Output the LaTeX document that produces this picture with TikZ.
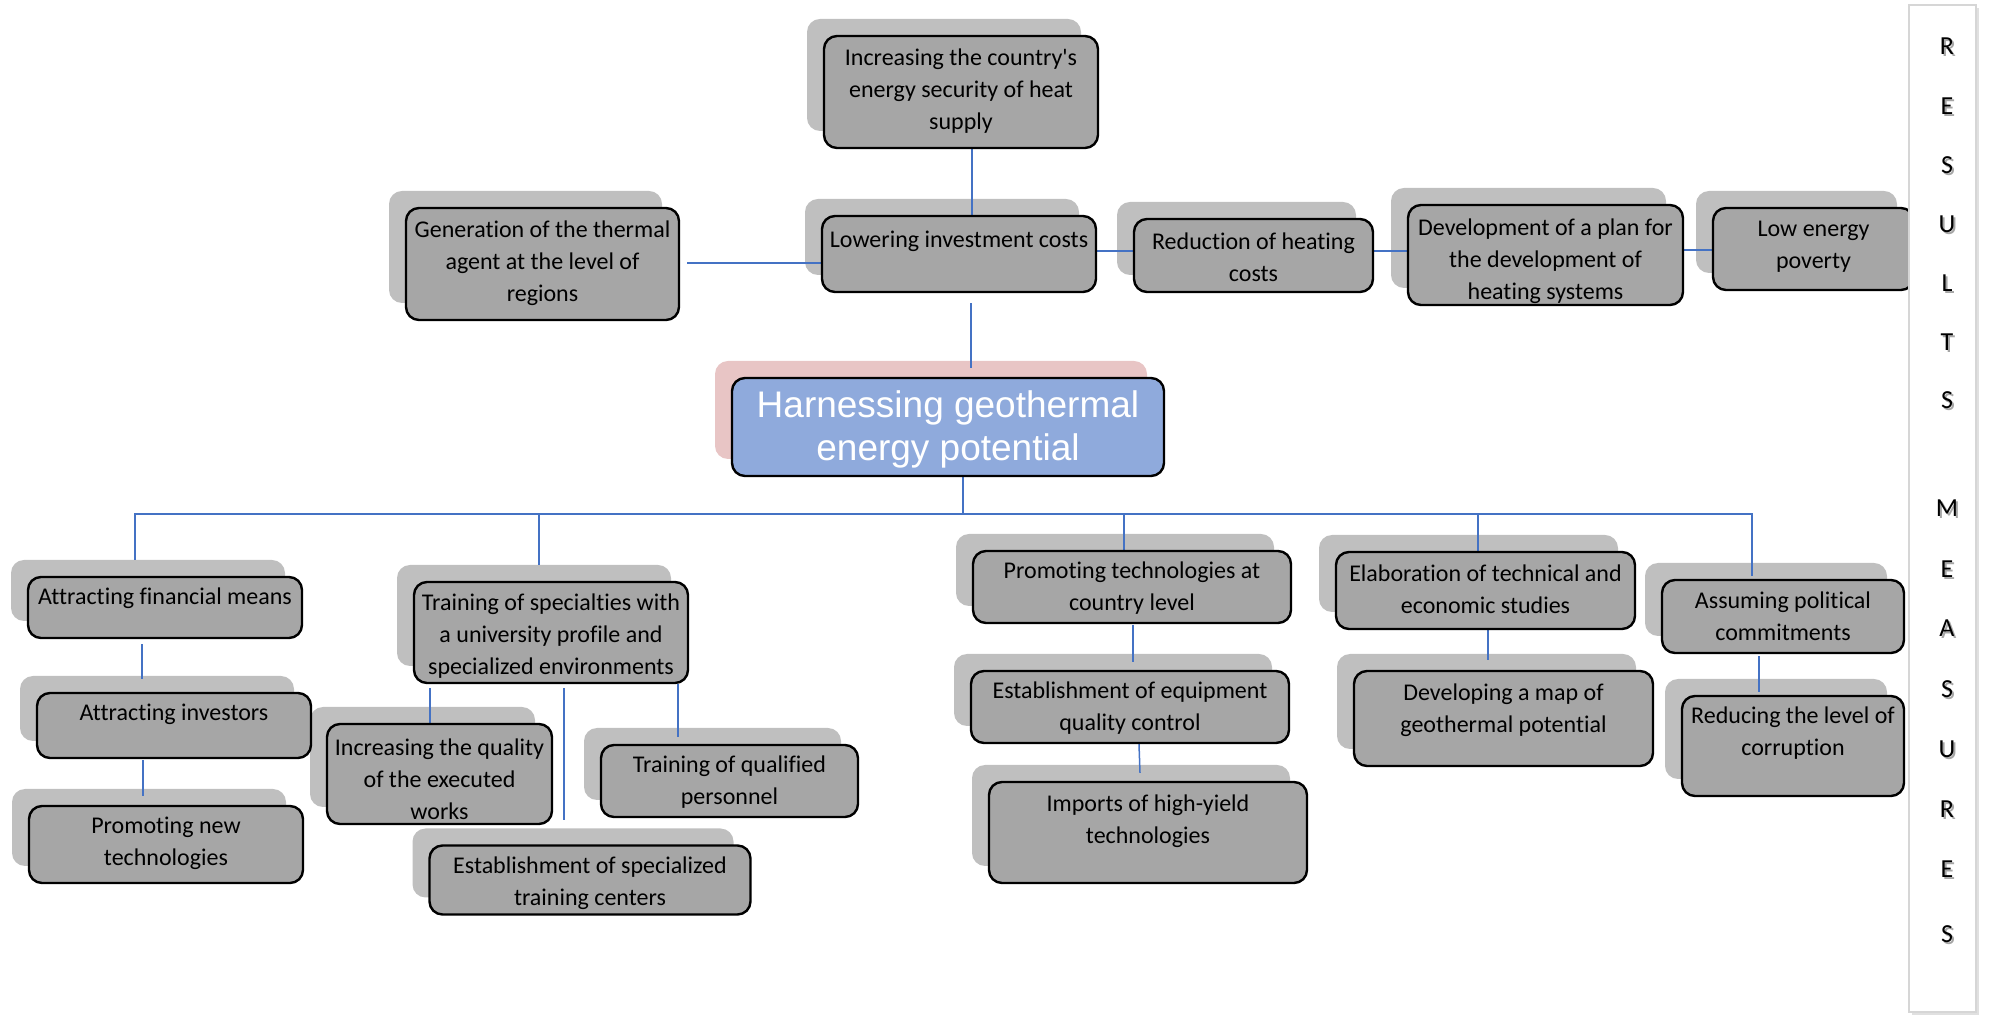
\documentclass[tikz,border=0pt]{standalone}
\usepackage{fontspec}
\setmainfont{Carlito}[Ligatures={TeXOff,NoCommon}]
\newfontfamily\headfont{Liberation Sans}
\usetikzlibrary{calc}

\definecolor{boxgray}{HTML}{A6A6A6}
\definecolor{ghostgray}{HTML}{BFBFBF}
\definecolor{wireblue}{HTML}{4472C4}
\definecolor{corefill}{HTML}{8FAADC}
\definecolor{coreghost}{HTML}{E8C5C5}
\definecolor{barline}{HTML}{D6D6D6}

\pgfdeclarelayer{ghosts}
\pgfdeclarelayer{wires}
\pgfsetlayers{ghosts,wires,main}

\tikzset{
  tilebox/.style={draw=black, line width=1.2pt, fill=boxgray, rounded corners=6.5pt, inner sep=0pt},
  ghostbox/.style={fill=ghostgray, draw=none, rounded corners=6.5pt, inner sep=0pt},
  boxtext/.style={align=center, inner sep=0pt, font=\fontsize{12}{15.9}\selectfont},
  wire/.style={draw=wireblue, line width=0.75pt},
  barletter/.style={inner sep=0pt, font=\fontsize{13}{13}\selectfont},
}

% one rounded tile with its offset shadow: name, cx, cy, width, height, text y, text
\newcommand\tile[7]{%
  \begin{pgfonlayer}{ghosts}
    \node[ghostbox, minimum width=#4*0.5pt, minimum height=#5*0.5pt] (#1s) at (#2-17,#3-17) {};
  \end{pgfonlayer}
  \node[tilebox, minimum width=#4*0.5pt, minimum height=#5*0.5pt] (#1) at (#2,#3) {};
  \node[boxtext] (#1t) at (#2,#6+2) {#7};
}

\begin{document}
\begin{tikzpicture}[x=0.5pt, y=-0.5pt]
\useasboundingbox (0,0) rectangle (1993,1020);

% results row
\tile{n1}{961}{92}{274}{112}{89}{Increasing the country's\\energy security of heat\\supply}
\tile{n2}{542.5}{264}{273}{112}{261}{Generation of the thermal\\agent at the level of\\regions}
\tile{n3}{959}{254}{274}{76}{239}{Lowering investment costs}
\tile{n4}{1253.5}{255.5}{239}{73}{255}{Reduction of heating\\costs}
\tile{n5}{1545.5}{255}{275}{100}{259}{Development of a plan for\\the development of\\heating systems}
\tile{n6}{1813.5}{249}{201}{82}{245}{Low energy\\poverty}

% central goal
\begin{pgfonlayer}{ghosts}
  \node[ghostbox, fill=coreghost, minimum width=432*0.5pt, minimum height=98*0.5pt] (cores) at (931,410) {};
\end{pgfonlayer}
\node[tilebox, fill=corefill, minimum width=432*0.5pt, minimum height=98*0.5pt] (core) at (948,427) {};
\node[align=center, inner sep=0pt, text=white, font=\headfont\fontsize{18.5}{21.5}\selectfont] (coret) at (948,429) {Harnessing geothermal\\energy potential};

% measures
\tile{n8}{165}{607.5}{274}{61}{596}{Attracting financial means}
\tile{n9}{174}{725.5}{274}{65}{712}{Attracting investors}
\tile{n10}{166}{844.5}{274}{77}{841}{Promoting new\\technologies}
\tile{n11}{551}{632.5}{274}{101}{634}{Training of specialties with\\a university profile and\\specialized environments}
\tile{n12}{439.5}{774}{225}{100}{777}{Increasing the quality\\of the executed\\works}
\tile{n13}{729.5}{781}{257}{72}{780}{Training of qualified\\personnel}
\tile{n14}{590}{880}{321}{69}{881}{Establishment of specialized\\training centers}
\tile{n15}{1132}{587}{318}{72}{586}{Promoting technologies at\\country level}
\tile{n16}{1130}{707}{318}{72}{706}{Establishment of equipment\\quality control}
\tile{n17}{1148}{832.5}{318}{101}{819}{Imports of high-yield\\technologies}
\tile{n18}{1485.5}{590.5}{299}{77}{587}{Elaboration of technical and\\economic studies}
\tile{n19}{1503.5}{718.5}{299}{95}{708}{Developing a map of\\geothermal potential}
\tile{n20}{1783}{616.5}{242}{73}{614}{Assuming political\\commitments}
\tile{n21}{1793}{746}{222}{100}{731}{Reducing the level of\\corruption}

\begin{pgfonlayer}{wires}
  % upper chain
  \draw[wire] ($(n1.south)+(11,0)$) -- ($(n3.north)+(13,0)$);
  \draw[wire] ($(n3.south)+(12,10)$) -- ($(core.north)+(23,-9)$);
  \draw[wire] ($(n2.east)+(7,-1)$) -- ($(n3.west)+(0,9)$);
  \draw[wire] ($(n3.east)+(0,-3)$) -- ($(n4.west)+(0,-4.5)$);
  \draw[wire] ($(n4.east)+(0,-4.5)$) -- ($(n5.west)+(0,-4)$);
  \draw[wire] ($(n5.east)+(0,-5)$) -- ($(n6.west)+(0,1)$);
  % distribution bus
  \coordinate (hub) at ($(core.south)+(15,37)$);
  \draw[wire] ($(core.south)+(15,0)$) -- (hub);
  \draw[wire] ($(n8s.north)+(-13,0)$) |- (hub) -| ($(n20.north)+(-31,-3)$);
  \draw[wire] (hub) -| ($(n11s.north)+(5,0)$);
  \draw[wire] (hub) -| ($(n15.north)+(-8,0)$);
  \draw[wire] (hub) -| ($(n18.north)+(-7.5,0)$);
  % lower chains
  \draw[wire] ($(n8.south)+(-23,5)$) -- ($(n9.north)+(-32,-13)$);
  \draw[wire] ($(n9.south)+(-31,1)$) -- ($(n10.north)+(-23,-9)$);
  \draw[wire] ($(n11.south)+(-121,4)$) -- ($(n12.north)+(-9.5,0)$);
  \draw[wire] ($(n11.south)+(13,4)$) -- ($(n14.north)+(-26,-24)$);
  \draw[wire] ($(n11.south)+(127,0)$) -- ($(n13.north)+(-51.5,-7)$);
  \draw[wire] ($(n15.south)+(1,1)$) -- ($(n16.north)+(3,-8)$);
  \draw[wire] ($(n16.south)+(9,0)$) -- ($(n17.north)+(-8,-8)$);
  \draw[wire] ($(n18.south)+(2.5,-5)$) -- ($(n19.north)+(-15.5,-10)$);
  \draw[wire] ($(n20.south)+(-24,2)$) -- ($(n21.north)+(-34,-3)$);
\end{pgfonlayer}

% side strip
\fill[black!12] (1912,8) rectangle (1979,1015);
\node[draw=barline, fill=white, line width=1pt, inner sep=0pt, minimum width=67*0.5pt, minimum height=1007*0.5pt] (strip) at (1942.5,508.5) {};
\foreach \ch/\yy [count=\k] in {R/46,E/106,S/165,U/224,L/283,T/342,S/400,M/508,E/569,A/628,S/689,U/749,R/809,E/869,S/934}{
  \node[barletter, text=black!35] at (1949,\yy+2) {\ch};
  \node[barletter] (strip\k) at (1947,\yy) {\ch};
}
\end{tikzpicture}
\end{document}
